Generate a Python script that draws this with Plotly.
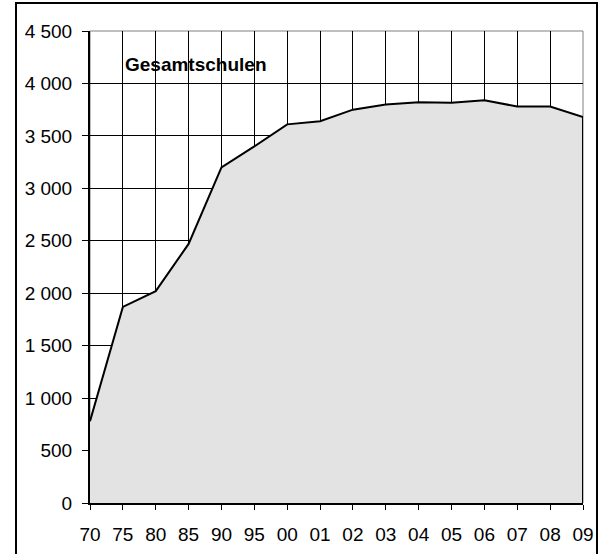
"""
Area chart: Gesamtschulen, 1970-2009.
"""

import plotly.graph_objects as go

years = ["70", "75", "80", "85", "90", "95", "00", "01", "02", "03",
         "04", "05", "06", "07", "08", "09"]
schools = [780, 1870, 2020, 2470, 3200, 3400, 3610, 3640, 3750, 3800,
           3820, 3815, 3840, 3780, 3780, 3680]

y_ticks = [0, 500, 1000, 1500, 2000, 2500, 3000, 3500, 4000, 4500]
y_labels = ["0", "500", "1 000", "1 500", "2 000", "2 500", "3 000",
            "3 500", "4 000", "4 500"]

FONT = "Liberation Sans, Arial, sans-serif"

fig = go.Figure()
fig.add_trace(
    go.Scatter(
        x=years,
        y=schools,
        mode="lines",
        fill="tozeroy",
        fillcolor="#e3e3e3",
        line=dict(color="black", width=2),
        hoverinfo="x+y",
        showlegend=False,
    )
)

# closing edge of the area at the last year
fig.add_shape(type="line", xref="x", yref="y",
              x0=len(years) - 1, x1=len(years) - 1, y0=0, y1=schools[-1],
              line=dict(color="black", width=2), layer="above")

# plot area border (gray)
fig.add_shape(type="rect", xref="paper", yref="paper",
              x0=0, x1=1, y0=0, y1=1,
              line=dict(color="#808080", width=1), layer="below")

# outer frame, open at the bottom
fig.add_shape(type="path", xref="paper", yref="paper",
              path="M -0.1501,-0.2 L -0.1501,1.0593 L 1.0284,1.0593 L 1.0284,-0.2",
              line=dict(color="black", width=2))

fig.add_annotation(
    text="<b>Gesamtschulen</b>",
    xref="paper", yref="paper", x=0.067, y=0.930,
    xanchor="left", yanchor="middle", showarrow=False,
    font=dict(family=FONT, size=19, color="black"),
)

fig.update_xaxes(
    type="category",
    range=[0, len(years) - 1],
    automargin=False,
    showgrid=True, gridcolor="black", gridwidth=1,
    showline=True, linecolor="black", linewidth=2,
    ticks="outside", ticklen=5, tickcolor="black", tickwidth=1,
    ticklabelstandoff=8,
    tickfont=dict(family=FONT, size=19, color="black"),
    fixedrange=True,
)
fig.update_yaxes(
    range=[0, 4500],
    automargin=False,
    tickvals=y_ticks, ticktext=y_labels,
    showgrid=True, gridcolor="black", gridwidth=1,
    zeroline=False,
    showline=True, linecolor="black", linewidth=2,
    ticks="outside", ticklen=6, tickcolor="black", tickwidth=1,
    ticklabelstandoff=6,
    tickfont=dict(family=FONT, size=19, color="black"),
    fixedrange=True,
)
fig.update_layout(
    width=605, height=554,
    margin=dict(l=90, r=22, t=31, b=51),
    plot_bgcolor="white", paper_bgcolor="white",
    showlegend=False,
)

fig.write_html("out.html", config={"displayModeBar": False},
               post_script="document.body.style.margin = '0';")
